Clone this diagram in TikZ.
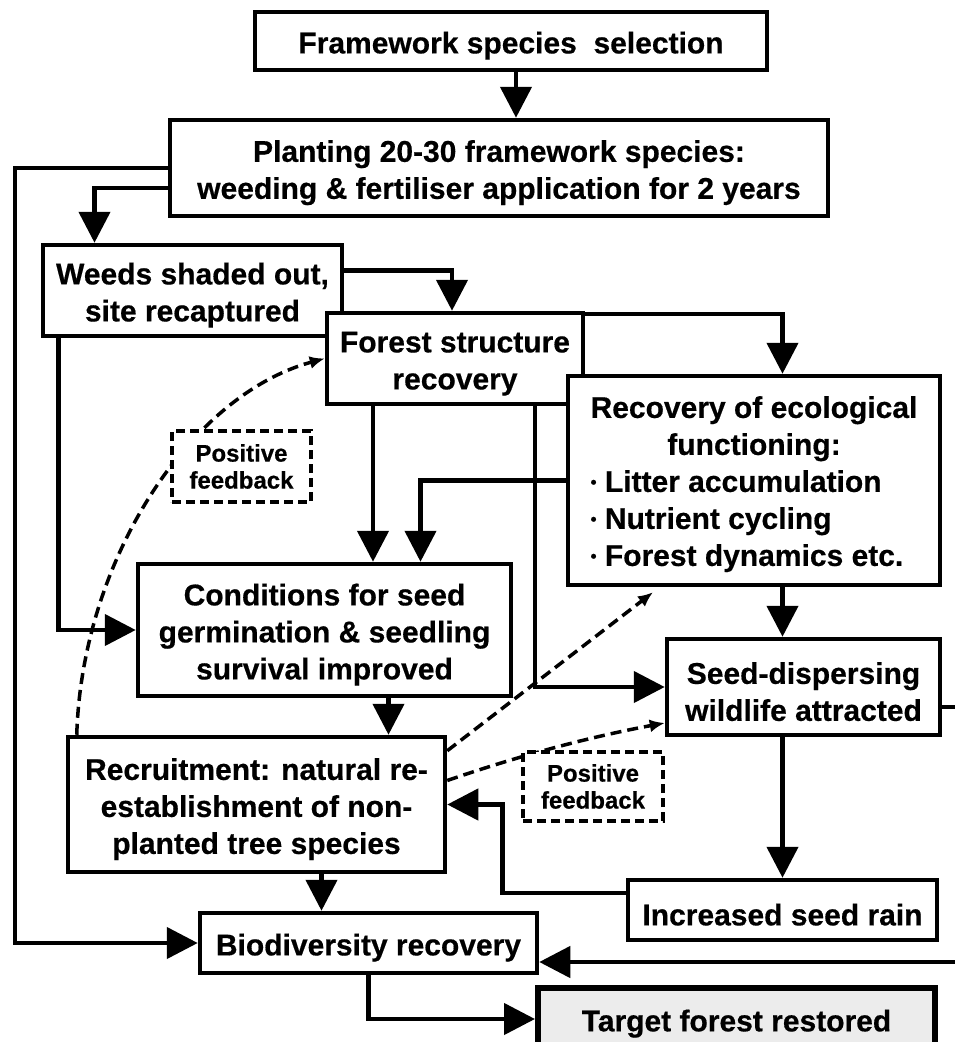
\documentclass[tikz,border=0pt]{standalone}
\usepackage{fontspec}
\setmainfont{Liberation Sans}[BoldFeatures={FakeBold=0.5}]
\usetikzlibrary{arrows.meta}
\usetikzlibrary{positioning}
\newcommand{\bigtxt}{\fontsize{30}{37}\selectfont\bfseries}
\newcommand{\fbtxt}{\fontsize{24}{27}\selectfont\bfseries}
\newcommand{\lowr}{\rule{0pt}{31pt}}
\newcommand{\bul}{\raisebox{4pt}{\fontsize{17}{17}\selectfont•}\ }
\tikzstyle{box}=[draw=black, line width=4.5pt, fill=white, align=center, inner sep=0pt, font=\bigtxt]
\tikzstyle{fbbox}=[draw=black, line width=3.5pt, dash pattern=on 9pt off 5pt, fill=white, align=center, inner sep=0pt, font=\fbtxt]
\tikzstyle{link}=[line width=4.5pt, -{Triangle[length=31pt,width=31pt]}]
\tikzstyle{plain}=[line width=4.5pt]
\tikzstyle{fb}=[line width=3.5pt, dash pattern=on 11pt off 6pt, -{Latex[length=15pt,width=13pt]}]

\begin{document}
\begin{tikzpicture}[x=1pt, y=-1pt]
        \useasboundingbox (0,0) rectangle (954,1042);

        % Boxes
        \node at (511, 41) [box, minimum width=512pt, minimum height=58pt] (fss) {\lowr Framework species\ \ selection};
        \node at (499, 168) [box, minimum width=658pt, minimum height=96pt] (plant)
          {\lowr Planting 20-30 framework species:\\ weeding \& fertiliser application for 2 years};
        \node at (192.5, 290.5) [box, minimum width=299pt, minimum height=91pt] (weeds) {\lowr Weeds shaded out,\\ site recaptured};
        \node at (455, 358.5) [box, minimum width=256pt, minimum height=91pt] (fsr) {\lowr Forest structure\\ recovery};
        \node at (754, 480.5) [box, minimum width=372pt, minimum height=209pt] (eco)
          {\raisebox{-4pt}[\height][\depth]{\begin{tabular}{@{}l@{}}
           \multicolumn{1}{@{}c@{}}{Recovery of ecological}\\
           \multicolumn{1}{@{}c@{}}{functioning:}\\
           \bul Litter accumulation\\
           \bul Nutrient cycling\\
           \bul Forest dynamics etc.
           \end{tabular}}};
        \node at (324.5, 630) [box, minimum width=373pt, minimum height=132pt] (cond)
          {\lowr Conditions for seed\\ germination \& seedling\\ survival improved};
        \node at (803.5, 687) [box, minimum width=273pt, minimum height=96pt] (seed) {\lowr Seed-dispersing\\ wildlife attracted};
        \node at (256.5, 804.5) [box, minimum width=377pt, minimum height=135pt] (recr)
          {\lowr Recruitment: natural re-\\ establishment of non-\\ planted tree species};
        \node at (782.5, 910) [box, minimum width=309pt, minimum height=60pt] (rain) {\lowr Increased seed rain};
        \node at (368.5, 943) [box, minimum width=337pt, minimum height=60pt] (bio) {\lowr Biodiversity recovery};
        \node at (736.5, 1019) [box, line width=6pt, fill=gray!15, minimum width=397pt, minimum height=62pt] (target) {\lowr Target forest restored};

        % Free ends at the right edge
        \coordinate (sdout) at (960, 707);
        \coordinate (bioin) at (960, 962);

        % Solid links
        \draw [link] ([xshift=5pt]fss.south) -- ([xshift=5pt]fss.south |- plant.north);
        \draw [link] (plant.west) -| (15, 400) |- (bio.west);
        \draw [link] ([yshift=-20pt]plant.west) -| ([xshift=-98pt]weeds.north);
        \draw [link] ([yshift=20pt]weeds.east) -| ([xshift=-3pt]fsr.north);
        \draw [link] ([yshift=-3pt]fsr.north east) -| (rain |- eco.north);
        \draw [link] ([xshift=-134pt]weeds.south) |- (cond.west);
        \draw [link] ([xshift=-82pt]fsr.south) -- ([xshift=-82pt]fsr.south |- cond.north);
        \draw [link] (eco.west) -| ([xshift=96pt]cond.north);
        \draw [link] ([xshift=80pt]fsr.south) |- (seed.west);
        \draw [link] (rain |- eco.south) -- (rain |- seed.north);
        \draw [link] (rain |- seed.south) -- (rain.north);
        \draw [link] ([xshift=64pt]cond.south) -- ([xshift=64pt]cond.south |- recr.north);
        \draw [link] ([xshift=65pt]recr.south) -- ([xshift=65pt]recr.south |- bio.north);
        \draw [link] ([yshift=17pt]rain.west) -| ([xshift=55pt]recr.east) -- (recr.east);
        \draw [link] (bio.south) |- (target.west);
        \draw [plain] (seed.east |- sdout) -- (sdout);
        \draw [link] (bioin) -- (bioin -| bio.east);

        % Feedback
        \draw [fb] ([xshift=11pt]recr.north west) .. controls (82, 560) and (190, 395) .. (fsr.west);
        \draw [fb] ([yshift=-16pt]recr.north east) -- ([xshift=-101pt, yshift=-5pt]eco.south);
        \draw [fb] ([yshift=24pt]recr.east) .. controls (530, 752) and (600, 735) .. ([yshift=-36pt]seed.west);

        \node at (241.5, 466.5) [fbbox, minimum width=139pt, minimum height=71pt] (fb1) {Positive\\ feedback};
        \node at (593, 786.5) [fbbox, minimum width=140pt, minimum height=69pt] (fb2) {Positive\\ feedback};
      \end{tikzpicture}
\end{document}
